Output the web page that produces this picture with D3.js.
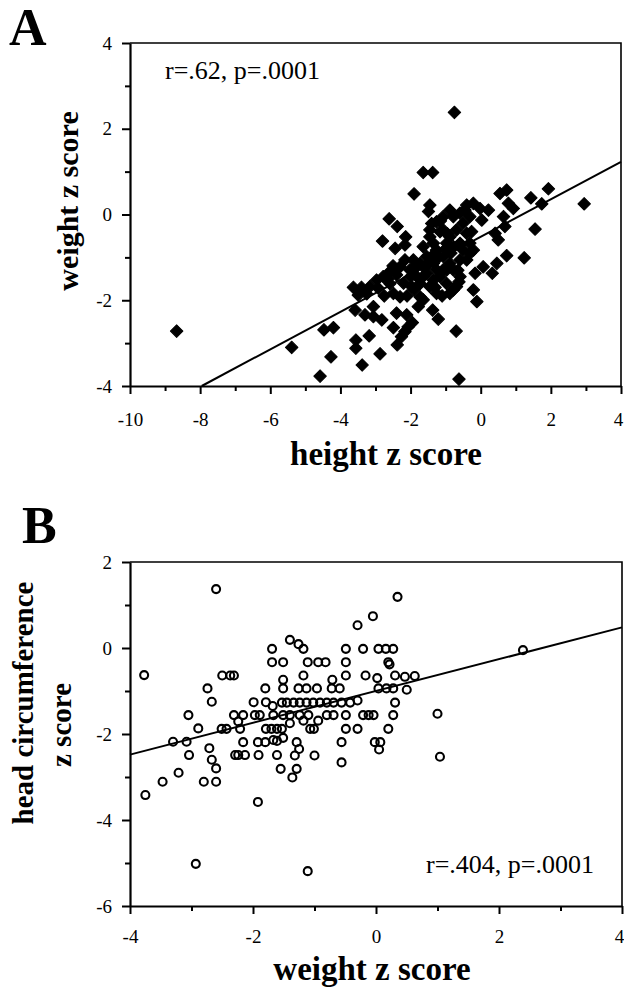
<!DOCTYPE html>
<html>
<head>
<meta charset="utf-8">
<script src="https://cdn.jsdelivr.net/npm/d3@7"></script>
<style>
  body { margin: 0; background: #fff; }
  svg { display: block; font-family: "Liberation Serif", "Times New Roman", serif; }
</style>
</head>
<body>
<script>
"use strict";

// Panel A: height z vs weight z
const heightZ = [-8.67,-0.75,-1.64,-1.37,-1.90,2.95,1.93,1.43,1.74,1.55,1.24,0.74,0.46,0.33,0.50,0.69,0.65,0.55,0.74,0.79,0.93,-0.11,-0.70,-0.62,-5.39,-4.58,-4.27,-4.47,-4.20,-3.38,-2.87,-3.56,-3.56,-3.18,-2.38,-2.26,-2.16,-2.07,-1.95,-2.49,-1.21,-1.37,-0.88,-0.62,-0.16,0.07,-0.26,-0.31,0.03,
  -0.21,-0.02,0.22,-0.40,-0.59,-0.88,-1.07,-1.26,-1.45,-1.49,-1.40,-1.45,-1.16,-0.88,-0.59,-0.78,-0.97,-0.40,
  -2.61,-2.38,-2.14,-2.80,-2.44,-2.16,
  -3.63,-3.40,-3.16,-2.92,-3.49,
  -2.78,-2.59,-2.40,-2.16,-1.92,-1.73,-2.49,-2.30,-1.97,-1.73,-1.54,-1.35,-1.26,-1.07,-0.88,-0.59,-0.50,-1.16,-0.97,-0.78,-1.26,-1.45,-1.73,-1.78,-1.64,
  -3.06,-3.30,-3.06,-2.82,-2.40,-2.11,-3.58,
  -2.30,-2.02,-1.82,-2.59,-2.97,
  -0.69,-0.21,-0.40,-0.78,-0.59,-0.97,-1.35,-1.45,-1.07,-0.78,-0.31,0.41,-0.21,-0.69,
  -1.64,-1.54,-1.92,-1.64,-1.35,-1.07,-1.26,-1.40,
  -2.65,-2.50,-2.20,-2.00,-1.85,-1.60,-1.45,-1.20,-1.00,-0.85,-1.30,-1.10,-2.10,-1.90,-0.95,-1.15,-0.50,-0.45,-3.25,-2.75,-0.65,-0.30];
const weightZA = [-2.72,2.38,0.98,0.98,0.48,0.25,0.60,0.39,0.25,-0.34,-1.01,-0.96,-1.14,-1.37,-0.59,-0.28,-0.05,0.49,0.57,0.26,0.14,-2.03,-2.72,-3.84,-3.10,-3.77,-3.32,-2.69,-2.64,-3.51,-3.25,-2.93,-3.12,-2.83,-3.04,-2.85,-2.73,-2.62,-2.52,-2.64,-2.44,-2.23,-1.84,-1.57,-1.37,-1.22,-0.40,-0.67,-0.13,
  0.26,0.14,0.10,0.22,0.03,0.10,-0.05,-0.17,0.22,0.07,-0.21,-0.52,-0.40,-0.52,-0.67,-0.75,-0.67,-0.44,
  -0.10,-0.28,-0.52,-0.62,-0.79,-0.71,
  -1.70,-1.70,-1.68,-1.72,-1.88,
  -1.45,-1.33,-1.41,-1.06,-1.06,-1.14,-1.84,-1.92,-1.68,-1.61,-1.37,-1.14,-0.83,-0.98,-1.14,-1.06,-0.83,-1.45,-1.61,-1.76,-1.84,-1.68,-1.92,-2.15,-1.99,
  -2.15,-2.34,-2.38,-2.46,-2.30,-2.34,-2.23,
  -1.22,-1.29,-1.45,-1.61,-1.53,
  -0.36,-0.83,-1.06,-1.29,-1.45,-1.29,-0.67,-0.36,-0.36,-0.05,-0.05,-0.44,-1.76,-1.68,
  -0.75,-0.98,-1.29,-1.45,-1.53,-1.29,-1.29,-0.98,
  -1.50,-1.20,-1.60,-1.45,-1.20,-1.25,-1.10,-1.00,-0.80,-0.90,-1.70,-1.90,-1.90,-1.75,-0.45,-0.15,-0.20,0.10,-1.85,-1.90,-1.30,-0.90];
const fitA = { intercept: -0.52, slope: 0.4375 };

// Panel B: weight z vs head circumference z
const weightZB = [-2.60,0.35,-0.05,-0.30,2.39,-1.40,-1.26,-1.18,-1.69,-0.49,-0.21,0.04,0.16,0.28,
  -1.69,-1.51,-1.11,-0.94,-0.82,-0.49,0.20,0.22,
  -2.50,-2.37,-2.31,-1.51,-1.18,-0.71,-0.49,-0.17,0.02,0.31,0.47,0.63,
  -2.74,-2.67,-1.80,-1.51,-1.26,-1.13,-0.96,-0.72,-0.59,0.04,0.17,0.28,0.50,
  -3.05,-2.89,-3.30,-3.08,-3.04,-3.47,-3.21,-2.71,-2.67,-2.60,-2.80,-2.60,-2.93,-1.11,-1.92,
  -2.51,-2.43,-2.21,-2.31,-2.16,-2.24,-1.99,-1.97,-1.89,-1.79,-1.68,
  -1.79,-1.70,-1.61,-1.53,
  -1.67,-1.51,-1.40,-1.24,-1.10,
  -1.53,-1.45,-1.34,-1.24,-1.13,-1.02,-0.91,-0.80,-0.69,-0.56,-0.42,-0.30,
  -0.80,-0.69,-0.49,-0.21,-0.12,-0.04,0.28,0.31,0.20,-0.49,-0.30,-1.07,-1.01,-0.94,-1.18,-1.40,
  -2.16,-2.29,-2.24,-2.13,-1.92,-1.80,-1.91,-1.67,-1.61,-1.51,-1.61,-1.55,-1.36,-1.29,-1.25,-1.32,-1.29,-1.00,-0.56,-0.56,-0.02,0.07,0.05,1.00,1.04,-3.77,-3.75];
const headZ = [1.37,1.19,0.74,0.53,-0.05,0.19,0.09,-0.02,-0.02,-0.02,-0.02,-0.02,-0.02,-0.02,
  -0.33,-0.33,-0.33,-0.33,-0.33,-0.33,-0.33,-0.38,
  -0.64,-0.64,-0.64,-0.74,-0.64,-0.74,-0.64,-0.64,-0.70,-0.64,-0.67,-0.65,
  -0.94,-1.25,-0.94,-0.94,-0.94,-0.94,-0.94,-0.94,-0.94,-0.94,-0.94,-0.94,-0.97,
  -1.56,-1.87,-2.18,-2.18,-2.49,-3.11,-2.90,-2.33,-2.60,-2.80,-3.11,-3.11,-5.02,-5.19,-3.58,
  -1.88,-1.88,-1.88,-1.56,-1.56,-1.71,-1.26,-1.56,-1.56,-1.26,-1.35,
  -1.88,-1.88,-1.88,-1.88,
  -1.56,-1.56,-1.56,-1.56,-1.56,
  -1.27,-1.27,-1.27,-1.27,-1.27,-1.27,-1.27,-1.27,-1.27,-1.27,-1.27,-1.22,
  -1.56,-1.56,-1.56,-1.56,-1.56,-1.56,-1.56,-1.27,-1.88,-1.88,-1.88,-1.88,-1.88,-1.69,-1.69,-1.75,
  -2.19,-2.49,-2.49,-2.49,-2.19,-2.19,-2.49,-2.14,-2.16,-2.09,-2.49,-2.81,-3.01,-2.19,-2.35,-2.50,-2.81,-2.50,-2.19,-2.66,-2.19,-2.19,-2.36,-1.53,-2.53,-0.63,-3.42];
const fitB = { intercept: -1.0, slope: 0.37 };

const svg = d3.select('body')
    .append('svg')
    .attr('width', 624)
    .attr('height', 987);

svg.append('rect').attr('width', 624).attr('height', 987).attr('fill', '#fff');

/****************
 * Draw a panel *
 ****************/

const drawPanel = (p) => {
    const x = d3.scaleLinear().domain(p.xDomain).range([130, p.right]);
    const y = d3.scaleLinear().domain(p.yDomain).range([p.bottom, p.top]);
    const g = svg.append('g');
    const plain = d => String(d);   // hyphen minus, like the original

    const xMajor = d3.range(p.xDomain[0], p.xDomain[1] + 1, 2);
    const xMinor = d3.range(p.xDomain[0] + 1, p.xDomain[1], 2);
    const yMajor = d3.range(p.yDomain[0], p.yDomain[1] + 1, 2);
    const yMinor = d3.range(p.yDomain[0] + 1, p.yDomain[1], 2);

    // frame (top + right)
    g.append('path')
        .attr('d', `M${x(p.xDomain[0])},${y(p.yDomain[1])}H${x(p.xDomain[1])}V${y(p.yDomain[0])}`)
        .attr('fill', 'none')
        .attr('stroke', '#000')
        .attr('stroke-width', 1.6);

    // minor ticks
    g.append('g')
        .attr('transform', `translate(0,${p.bottom})`)
        .call(d3.axisBottom(x).tickValues(xMinor).tickSize(5).tickSizeOuter(0).tickFormat(''))
        .call(a => a.select('.domain').remove());
    g.append('g')
        .attr('transform', `translate(130,0)`)
        .call(d3.axisLeft(y).tickValues(yMinor).tickSize(5).tickSizeOuter(0).tickFormat(''))
        .call(a => a.select('.domain').remove());

    // major ticks + labels
    const xa = g.append('g')
        .attr('transform', `translate(0,${p.bottom})`)
        .call(d3.axisBottom(x).tickValues(xMajor).tickSize(8).tickSizeOuter(0).tickPadding(p.xPad).tickFormat(plain));
    const ya = g.append('g')
        .attr('transform', `translate(130,0)`)
        .call(d3.axisLeft(y).tickValues(yMajor).tickSize(8).tickSizeOuter(0).tickPadding(10).tickFormat(plain));

    [xa, ya].forEach(a => {
        a.select('.domain').attr('stroke-width', 2.2);
        a.selectAll('text')
            .attr('font-family', '"Liberation Serif", serif')
            .attr('font-size', 19)
            .attr('fill', '#000');
    });
    // last x label sits on the page edge; nudge it in so it stays whole
    xa.selectAll('.tick text').filter(d => d === p.xDomain[1]).attr('dx', -3);
    g.selectAll('.tick line').attr('stroke-width', 2);

    // regression line, clipped at the bottom of the y range
    const x0 = Math.max(p.xDomain[0], (p.yDomain[0] - p.fit.intercept) / p.fit.slope);
    const x1 = p.xDomain[1];
    g.append('line')
        .attr('x1', x(x0))
        .attr('y1', y(p.fit.intercept + p.fit.slope * x0))
        .attr('x2', x(x1))
        .attr('y2', y(p.fit.intercept + p.fit.slope * x1))
        .attr('stroke', '#000')
        .attr('stroke-width', 2);

    // points
    const pts = p.xs.map((v, i) => [v, p.ys[i]]);
    if (p.marker === 'diamond') {
        g.selectAll('.pt')
            .data(pts)
            .enter()
            .append('path')
            .attr('d', d3.symbol(d3.symbolSquare, 78))
            .attr('transform', d => `translate(${x(d[0])},${y(d[1])}) rotate(45)`)
            .attr('fill', '#000')
            .attr('stroke', '#000')
            .attr('stroke-width', 1)
            .attr('stroke-linejoin', 'round');
    } else {
        g.selectAll('.pt')
            .data(pts)
            .enter()
            .append('circle')
            .attr('cx', d => x(d[0]))
            .attr('cy', d => y(d[1]))
            .attr('r', 4)
            .attr('fill', 'none')
            .attr('stroke', '#000')
            .attr('stroke-width', 2.1);
    }

    // annotation
    g.append('text')
        .attr('x', p.note.x)
        .attr('y', p.note.y)
        .attr('text-anchor', p.note.anchor)
        .attr('font-size', 26)
        .text(p.note.text);

    // panel letter
    svg.append('text')
        .attr('x', p.letter.x)
        .attr('y', p.letter.y)
        .attr('font-size', 52)
        .attr('font-weight', 'bold')
        .text(p.letter.text);

    // x title
    svg.append('text')
        .attr('x', p.xTitle.x)
        .attr('y', p.xTitle.y)
        .attr('text-anchor', 'middle')
        .attr('font-size', 33)
        .attr('font-weight', 'bold')
        .text(p.xTitle.text);

    // y title(s), rotated
    p.yTitles.forEach(t => {
        svg.append('text')
            .attr('transform', `translate(${t.x},${t.y}) rotate(-90)`)
            .attr('text-anchor', 'middle')
            .attr('font-size', t.size)
            .attr('font-weight', 'bold')
            .text(t.text);
    });
};

drawPanel({
    xDomain: [-10, 4], yDomain: [-4, 4],
    right: 621, top: 43, bottom: 386, xPad: 19,
    xs: heightZ, ys: weightZA, fit: fitA, marker: 'diamond',
    note: { x: 165, y: 79, anchor: 'start', text: 'r=.62, p=.0001' },
    letter: { x: 9, y: 45, text: 'A' },
    xTitle: { x: 386, y: 465, text: 'height z score' },
    yTitles: [{ x: 78, y: 201, size: 30, text: 'weight z score' }]
});

drawPanel({
    xDomain: [-4, 4], yDomain: [-6, 2],
    right: 622, top: 562, bottom: 906, xPad: 16,
    xs: weightZB, ys: headZ, fit: fitB, marker: 'circle',
    note: { x: 594, y: 873, anchor: 'end', text: 'r=.404, p=.0001' },
    letter: { x: 22, y: 543, text: 'B' },
    xTitle: { x: 372, y: 980, text: 'weight z score' },
    yTitles: [
        { x: 33, y: 703, size: 29, text: 'head circumference' },
        { x: 71, y: 725, size: 29, text: 'z score' }
    ]
});
</script>
</body>
</html>
